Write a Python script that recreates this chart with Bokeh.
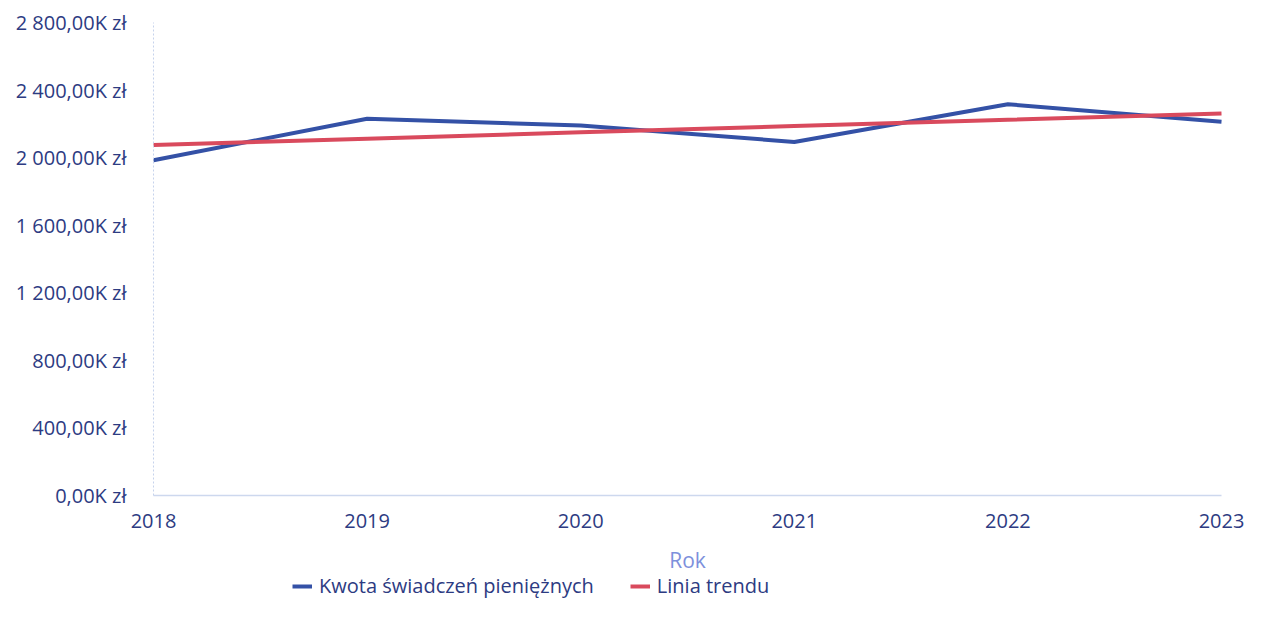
from bokeh.plotting import figure
from bokeh.models import Range1d, FixedTicker, Legend, LegendItem
from bokeh.embed import file_html
from bokeh.resources import INLINE

years = [2018, 2019, 2020, 2021, 2022, 2023]
kwota = [1985, 2230, 2190, 2093, 2316, 2213]          # thousands of zł
trend = [2075, 2112, 2150, 2187, 2224, 2262]          # linear trend line
y_ticks = [0, 400, 800, 1200, 1600, 2000, 2400, 2800]
y_tick_labels = ["0,00K zł", "400,00K zł", "800,00K zł", "1 200,00K zł",
                 "1 600,00K zł", "2 000,00K zł", "2 400,00K zł", "2 800,00K zł"]
x_tick_labels = ["2018", "2019", "2020", "2021", "2022", "2023"]
series_names = ["Kwota świadczeń pieniężnych", "Linia trendu"]
x_title = "Rok"

FONT = "Open Sans"
TXT = "#2d3b82"
BLUE = "#3451a6"
RED = "#d94a5d"

W, H = 1245, 602
# pixel layout of the data area inside the canvas (axes are drawn inside the frame)
PX_LEFT, PX_RIGHT, PX_TOP, PX_ZERO = 153, 1221, 22, 495
x0, x1 = years[0], years[-1]
y_top = y_ticks[-1]
ppx = (PX_RIGHT - PX_LEFT) / (x1 - x0)
ppy = (PX_ZERO - PX_TOP) / y_top
x_range = Range1d(x0 - PX_LEFT / ppx, x1 + (W - PX_RIGHT) / ppx)
y_range = Range1d(-(H - PX_ZERO) / ppy, y_top + PX_TOP / ppy)

p = figure(width=W, height=H, output_backend="svg", toolbar_location=None,
           x_range=x_range, y_range=y_range,
           min_border_left=0, min_border_right=0, min_border_top=0,
           min_border_bottom=0)
p.outline_line_color = None
p.grid.visible = False
p.background_fill_color = "white"

r1 = p.line(years, kwota, line_color=BLUE, line_width=4)
r2 = p.line(years, trend, line_color=RED, line_width=4)

# Y axis, drawn at the first year
p.yaxis.fixed_location = x0
p.yaxis.bounds = (0, y_top)
p.yaxis.ticker = FixedTicker(ticks=y_ticks)
p.yaxis.major_label_overrides = {t: l for t, l in zip(y_ticks, y_tick_labels)}
p.yaxis.major_tick_line_color = None
p.yaxis.minor_tick_line_color = None
p.yaxis.axis_line_color = "#c6d3ec"
p.yaxis.axis_line_dash = "2 2"
p.yaxis.major_label_standoff = 21
p.yaxis.major_label_text_font = FONT
p.yaxis.major_label_text_font_size = "20px"
p.yaxis.major_label_text_color = TXT

# X axis, drawn at value 0
p.xaxis.fixed_location = 0
p.xaxis.bounds = (x0, x1)
p.xaxis.ticker = FixedTicker(ticks=years)
p.xaxis.major_label_overrides = {y: l for y, l in zip(years, x_tick_labels)}
p.xaxis.major_tick_line_color = None
p.xaxis.minor_tick_line_color = None
p.xaxis.axis_line_color = "#cdd8ee"
p.xaxis.axis_line_width = 1.5
p.xaxis.major_label_standoff = 12
p.xaxis.major_label_text_font = FONT
p.xaxis.major_label_text_font_size = "20px"
p.xaxis.major_label_text_color = TXT
p.xaxis.axis_label = x_title
p.xaxis.axis_label_text_font = FONT
p.xaxis.axis_label_text_font_size = "21px"
p.xaxis.axis_label_text_font_style = "normal"
p.xaxis.axis_label_text_color = "#7d90dc"
p.xaxis.axis_label_standoff = 15

legend = Legend(items=[LegendItem(label=series_names[0], renderers=[r1]),
                       LegendItem(label=series_names[1], renderers=[r2])],
                orientation="horizontal", location=(292, 3),
                border_line_color=None, background_fill_alpha=0,
                padding=0, margin=0, spacing=36,
                glyph_width=20, glyph_height=20, label_height=20,
                label_standoff=7,
                label_text_font=FONT, label_text_font_size="20px",
                label_text_color=TXT)
p.add_layout(legend)

open("out.html", "w").write(file_html(p, INLINE))
